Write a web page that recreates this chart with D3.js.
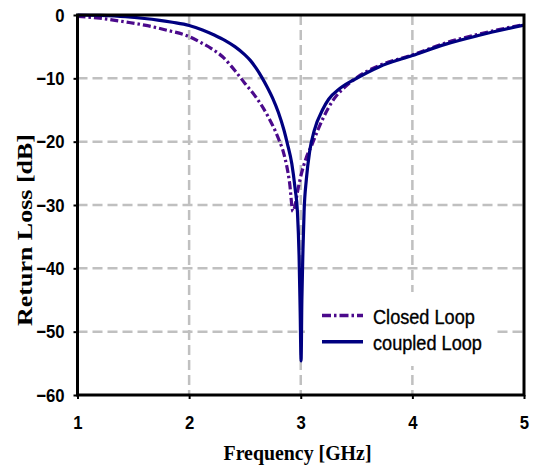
<!DOCTYPE html>
<html>
<head>
<meta charset="utf-8">
<script src="https://cdn.jsdelivr.net/npm/d3@7"></script>
<style>
  html, body { margin: 0; padding: 0; background: #fff; }
  svg { display: block; }
</style>
</head>
<body>
<svg id="chart" width="536" height="467"></svg>
<script>
// ---- data ----
const xTicks = [1, 2, 3, 4, 5];
const yTicks = [0, -10, -20, -30, -40, -50, -60];

const closedFreq = [1.0, 1.2, 1.43, 1.6, 1.8, 2.0, 2.1, 2.2, 2.3, 2.42, 2.5, 2.6, 2.7, 2.8, 2.85, 2.9, 2.93, 2.95, 2.97, 3.0, 3.05, 3.1, 3.15, 3.2, 3.3, 3.4, 3.5, 3.7, 4.0, 4.3, 4.6, 5.0];
const closedDb   = [-0.2, -0.5, -1.1, -1.6, -2.4, -3.4, -4.3, -5.3, -6.6, -9.0, -10.8, -13.0, -15.8, -19.5, -22.0, -26.5, -31.0, -30.0, -28.0, -25.5, -22.5, -20.5, -18.3, -16.3, -13.2, -11.3, -9.9, -8.0, -6.3, -4.4, -3.0, -1.5];

const coupledFreq = [1.0, 1.2, 1.43, 1.6, 1.72, 1.85, 2.0, 2.12, 2.23, 2.32, 2.41, 2.5, 2.55, 2.6, 2.65, 2.7, 2.75, 2.8, 2.85, 2.88, 2.92, 2.95, 2.97, 2.985, 2.995, 3.003, 3.01, 3.02, 3.03, 3.05, 3.08, 3.12, 3.2, 3.25, 3.35, 3.5, 3.7, 4.0, 4.3, 4.6, 5.0];
const coupledDb   = [0.0, -0.07, -0.27, -0.55, -0.8, -1.15, -1.65, -2.35, -3.2, -4.0, -5.0, -6.3, -7.2, -8.4, -9.8, -11.4, -13.2, -15.4, -18.2, -20.3, -23.5, -27.5, -31.0, -38.0, -47.0, -54.6, -45.0, -37.0, -31.0, -26.0, -21.5, -18.3, -14.8, -13.3, -11.6, -10.0, -8.2, -6.4, -4.6, -3.2, -1.6];

const seriesNames = ["Closed Loop", "coupled Loop"];
const seriesColors = ["#4b0a8c", "#000080"];

// ---- layout ----
const svg = d3.select("#chart");
const L = 77.5, R = 524, T = 15, B = 395;
const x = d3.scaleLinear().domain([1, 5]).range([L, R]);
const y = d3.scaleLinear().domain([0, -60]).range([T, B]);

function squeeze(sel, k) {
  sel.each(function () {
    const w = this.getComputedTextLength();
    this.setAttribute("textLength", (w * k).toFixed(2));
    this.setAttribute("lengthAdjust", "spacingAndGlyphs");
  });
}

// gridlines
const grid = svg.append("g").attr("stroke", "#c0c0c0").attr("stroke-width", 2.5)
  .attr("stroke-dasharray", "10,5");
grid.selectAll("line.h").data(yTicks.filter(v => v !== 0 && v !== -60)).join("line")
  .attr("class", "h")
  .attr("x1", L).attr("x2", R).attr("y1", d => y(d)).attr("y2", d => y(d));
grid.selectAll("line.v").data(xTicks.filter(v => v !== 1 && v !== 5)).join("line")
  .attr("class", "v")
  .attr("y1", T).attr("y2", B).attr("x1", d => x(d)).attr("x2", d => x(d));

// curves
const line = d3.line().x(d => x(d[0])).y(d => y(d[1])).curve(d3.curveMonotoneX);
const closed = closedFreq.map((f, i) => [f, closedDb[i]]);
const coupled = coupledFreq.map((f, i) => [f, coupledDb[i]]);

svg.append("path").datum(closed).attr("d", line)
  .attr("fill", "none").attr("stroke", seriesColors[0]).attr("stroke-width", 3.2)
  .attr("stroke-dasharray", "8,3,2.5,3");
svg.append("path").datum(coupled).attr("d", line)
  .attr("fill", "none").attr("stroke", seriesColors[1]).attr("stroke-width", 3.2);

// legend
const lg = svg.append("g");
lg.append("rect").attr("x", 305).attr("y", 292).attr("width", 192).attr("height", 74).attr("fill", "#fff");
const legY = [315.5, 341.7];
seriesNames.forEach((name, i) => {
  lg.append("line").attr("x1", 322).attr("x2", 363).attr("y1", legY[i]).attr("y2", legY[i])
    .attr("stroke", seriesColors[i]).attr("stroke-width", 3.4)
    .attr("stroke-dasharray", i === 0 ? "9,3,2.5,3" : null);
  lg.append("text").attr("x", 373).attr("y", legY[i] + 8)
    .attr("font-family", "Arial, 'Liberation Sans', sans-serif").attr("font-size", 19.5)
    .attr("fill", "#000").attr("stroke", "#000").attr("stroke-width", 0.35)
    .text(name).call(squeeze, 0.93);
});

// axes
const yAxis = d3.axisLeft(y).tickValues(yTicks).tickSize(4).tickPadding(9).tickFormat(d3.format("d"));
const gy = svg.append("g").attr("transform", `translate(${L},0)`).call(yAxis);
const xAxis = d3.axisBottom(x).tickValues(xTicks).tickSize(4).tickPadding(17).tickFormat(d3.format("d"));
const gx = svg.append("g").attr("transform", `translate(0,${B})`).call(xAxis);
[gy, gx].forEach(g => {
  g.select(".domain").remove();
  g.selectAll(".tick line").attr("stroke", "#000").attr("stroke-width", 2);
  g.selectAll(".tick text").attr("font-family", "Arial, 'Liberation Sans', sans-serif")
    .attr("font-size", 19).attr("font-weight", "bold").attr("fill", "#000").call(squeeze, 0.88);
});
gx.selectAll(".tick text").attr("dy", "0.71em");

// frame
svg.append("rect").attr("x", L).attr("y", T).attr("width", R - L).attr("height", B - T)
  .attr("fill", "none").attr("stroke", "#000").attr("stroke-width", 3);

// axis titles
svg.append("text").attr("x", 297.5).attr("y", 460).attr("text-anchor", "middle")
  .attr("font-family", "'Times New Roman', 'Liberation Serif', serif").attr("font-size", 21)
  .attr("font-weight", "bold").text("Frequency [GHz]")
  .attr("textLength", 148).attr("lengthAdjust", "spacingAndGlyphs");
svg.append("text").attr("transform", "translate(32,230) rotate(-90)").attr("text-anchor", "middle")
  .attr("font-family", "'Times New Roman', 'Liberation Serif', serif").attr("font-size", 20)
  .attr("font-weight", "bold").text("Return Loss [dB]")
  .attr("textLength", 192).attr("lengthAdjust", "spacingAndGlyphs");
</script>
</body>
</html>
